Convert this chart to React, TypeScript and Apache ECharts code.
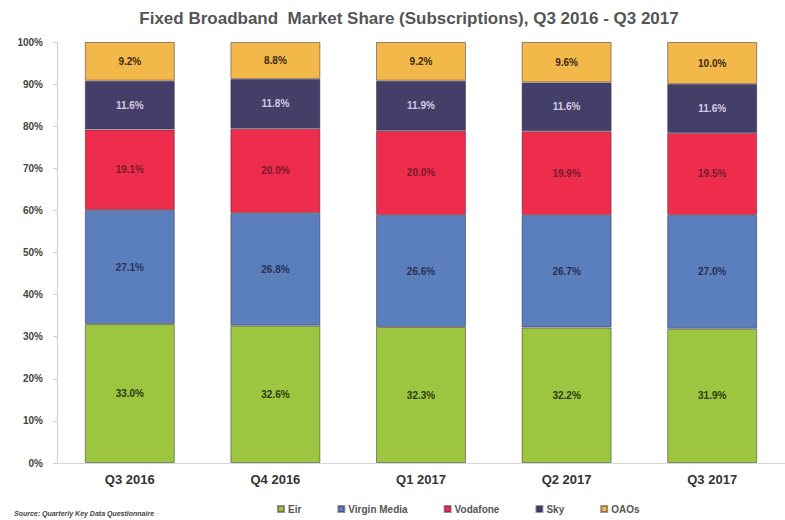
import React, { useEffect, useRef } from "react";
import * as echarts from "echarts";

const categories = ["Q3 2016", "Q4 2016", "Q1 2017", "Q2 2017", "Q3 2017"];
const eir = [33.0, 32.6, 32.3, 32.2, 31.9];
const virginMedia = [27.1, 26.8, 26.6, 26.7, 27.0];
const vodafone = [19.1, 20.0, 20.0, 19.9, 19.5];
const sky = [11.6, 11.8, 11.9, 11.6, 11.6];
const oaos = [9.2, 8.8, 9.2, 9.6, 10.0];
const yTicks = [0, 10, 20, 30, 40, 50, 60, 70, 80, 90, 100];

const seriesDefs = [
  { name: "Eir", data: eir, color: "#9cc63f", label: "#2f3a12" },
  { name: "Virgin Media", data: virginMedia, color: "#5b7fbc", label: "#2a2f55" },
  { name: "Vodafone", data: vodafone, color: "#ee2d4c", label: "#7a1a2c" },
  { name: "Sky", data: sky, color: "#433f69", label: "#d8c8e0" },
  { name: "OAOs", data: oaos, color: "#f3b84a", label: "#3a2a10" },
];

export default function App() {
  const ref = useRef<HTMLDivElement>(null);
  useEffect(() => {
    if (!ref.current) return;
    const chart = echarts.init(ref.current, null, { renderer: "svg" });
    chart.setOption({
      animation: false,
      backgroundColor: "#ffffff",
      title: {
        text: "Fixed Broadband  Market Share (Subscriptions), Q3 2016 - Q3 2017",
        left: 404,
        textAlign: "center",
        top: 5,
        textStyle: { fontFamily: "Arial, Liberation Sans, sans-serif", fontSize: 17, fontWeight: "bold", color: "#555555" },
      },
      legend: {
        left: 272,
        top: 499,
        itemWidth: 6,
        itemHeight: 6,
        itemGap: 36,
        icon: "rect",
        textStyle: { fontFamily: "Arial, Liberation Sans, sans-serif", fontSize: 10, fontWeight: "bold", color: "#555555", padding: [0, 0, 0, -1] },
        data: seriesDefs.map((s) => s.name),
      },
      graphic: [
        {
          type: "text",
          left: 14,
          top: 510,
          style: {
            text: "Source: Quarterly Key Data Questionnaire",
            fontFamily: "Arial, Liberation Sans, sans-serif",
            fontSize: 7,
            fontWeight: "bold",
            fontStyle: "italic",
            fill: "#444444",
          },
        },
      ],
      grid: { left: 57, width: 737, top: 42, bottom: 57, containLabel: false },
      xAxis: {
        type: "category",
        data: categories,
        axisLine: { show: true, lineStyle: { color: "#d8d8d8" } },
        axisTick: { show: false },
        axisLabel: { fontFamily: "Arial, Liberation Sans, sans-serif", fontSize: 13, fontWeight: "bold", color: "#333333", margin: 10 },
      },
      yAxis: {
        type: "value",
        min: 0,
        max: 100,
        interval: 10,
        axisLine: { show: true, lineStyle: { color: "#d0d0d0" } },
        axisTick: { show: true, inside: false, length: 4, lineStyle: { color: "#d0d0d0" } },
        splitLine: { show: false },
        axisLabel: {
          fontFamily: "Arial, Liberation Sans, sans-serif",
          fontSize: 10,
          fontWeight: "bold",
          color: "#444444",
          margin: 14,
          formatter: (v: number) => (yTicks.includes(v) ? v + "%" : ""),
        },
      },
      series: seriesDefs.map((s) => ({
        name: s.name,
        type: "bar",
        stack: "total",
        barWidth: 90,
        data: s.data,
        itemStyle: { color: s.color, borderColor: "rgba(60,40,60,0.5)", borderWidth: 1 },
        label: {
          show: true,
          position: "inside",
          formatter: (p: any) => p.value.toFixed(1) + "%",
          fontFamily: "Arial, Liberation Sans, sans-serif",
          fontSize: 10,
          fontWeight: "bold",
          color: s.label,
        },
      })),
    });
    return () => chart.dispose();
  }, []);
  return <div ref={ref} style={{ width: 785, height: 520, position: "absolute", left: 0, top: 0 }} />;
}
